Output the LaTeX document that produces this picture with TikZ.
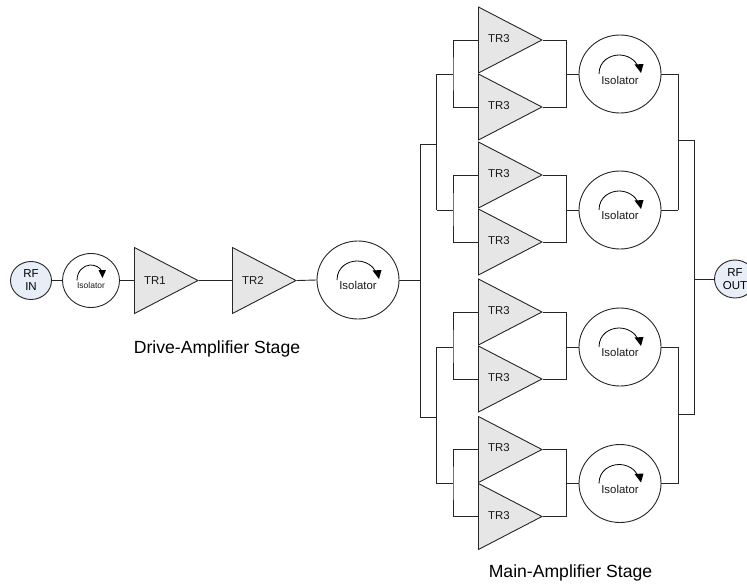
\documentclass[tikz,border=0pt]{standalone}
\usepackage{fontspec}
\setmainfont{Liberation Sans}
\usetikzlibrary{shapes.geometric}
\definecolor{ampfill}{HTML}{E6E6E6}
\definecolor{portfill}{HTML}{E8EEF8}
\definecolor{linec}{HTML}{262626}
\tikzset{
  amp/.style={draw=linec,fill=ampfill,line width=0.9pt,isosceles triangle,isosceles triangle stretches,
    minimum width=66pt,minimum height=63.5pt,inner sep=0pt,anchor=lower side},
  iso/.style={draw=linec,fill=white,line width=0.9pt,ellipse,minimum width=82pt,minimum height=78pt,inner sep=0pt},
  isosmall/.style={iso,minimum width=57pt,minimum height=54pt},
  port/.style={draw=linec,fill=portfill,line width=0.9pt,ellipse,minimum width=41pt,minimum height=38pt,inner sep=0pt,align=center,font=\fontsize{11.5}{13}\selectfont},
  lab/.style={inner sep=0pt,font=\fontsize{11.4}{13}\selectfont,text=black!90},
  stagelab/.style={inner sep=0pt,font=\fontsize{17.6}{20}\selectfont},
  wire/.style={draw=linec,line width=0.9pt},
  isoarrow/.pic={
    \draw[line width=0.8pt] (-21,0) .. controls (-21,-13) and (-10,-19) .. (-1,-19) .. controls (8,-19) and (15,-14) .. (18,-8);
    \fill (14.5,-9.5) -- (23.5,-10) -- (21,-1) -- cycle;
  },
  isoarrowsmall/.pic={
    \draw[line width=0.8pt] (-14,0) .. controls (-14,-10) and (-7,-15) .. (-1,-15.5) .. controls (5,-15.5) and (9,-13) .. (11,-9);
    \fill (7.5,-10.5) -- (15,-10.5) -- (11.5,-2.5) -- cycle;
  }
}
\begin{document}
\begin{tikzpicture}[x=1pt,y=-1pt]
\useasboundingbox (0,0) rectangle (747,584);
\clip (0,0) rectangle (747,584);
% junction coordinates
\coordinate (busA) at (420.5,144);
\coordinate (busB) at (420.5,417.5);
\coordinate (busIn) at (420.5,280);
\coordinate (l1) at (436.5,74);
\coordinate (l2) at (436.5,210);
\coordinate (l3) at (436.5,347);
\coordinate (l4) at (436.5,483.5);
\coordinate (m1) at (453,74);
\coordinate (m2) at (453,210);
\coordinate (m3) at (453,347);
\coordinate (m4) at (453,483.5);
\coordinate (r1) at (566.5,74);
\coordinate (r2) at (566.5,210);
\coordinate (r3) at (566.5,347);
\coordinate (r4) at (566.5,483.5);
\coordinate (o1) at (678,74);
\coordinate (o2) at (678,210);
\coordinate (o3) at (678,347);
\coordinate (o4) at (678,483.5);
\coordinate (oA) at (694.5,140);
\coordinate (oB) at (694.5,414);
\coordinate (oJ1) at (678,140);
\coordinate (oJ2) at (678,414);
\coordinate (oOut) at (694.5,279);
% wires
\draw[wire] (l1) -- (m1);
\draw[wire] (l2) -- (m2);
\draw[wire] (l3) -- (m3);
\draw[wire] (l4) -- (m4);
\draw[wire] (busA) -- (busB);
\draw[wire] (l1) |- (busA);
\draw[wire] (l2) |- (busA);
\draw[wire] (l3) |- (busB);
\draw[wire] (l4) |- (busB);
\draw[wire] (oA) -- (oB);
\draw[wire] (o1) -- (o2);
\draw[wire] (o3) -- (o4);
\draw[wire] (oJ1) -- (oA);
\draw[wire] (oJ2) -- (oB);
% amplifiers
\node[amp] (a1) at (478,40) {};
\node[amp] (a2) at (478,107) {};
\node[amp] (a3) at (478,175) {};
\node[amp] (a4) at (478,242) {};
\node[amp] (a5) at (478,312) {};
\node[amp] (a6) at (478,379) {};
\node[amp] (a7) at (478,449.5) {};
\node[amp] (a8) at (478,516.5) {};
\node[amp] (tr1) at (134,280.5) {};
\node[amp] (tr2) at (232,280.5) {};
% amplifier labels
\node[lab] (ta1) at (499,39) {TR3};
\node[lab] (ta2) at (499,106) {TR3};
\node[lab] (ta3) at (499,174) {TR3};
\node[lab] (ta4) at (499,241) {TR3};
\node[lab] (ta5) at (499,311) {TR3};
\node[lab] (ta6) at (499,378) {TR3};
\node[lab] (ta7) at (499,448) {TR3};
\node[lab] (ta8) at (499,516) {TR3};
\node[lab] (ttr1) at (155,280.5) {TR1};
\node[lab] (ttr2) at (253,280.5) {TR2};
% isolators
\node[iso] (i1) at (620,74) {};
\node[iso] (i2) at (620,210) {};
\node[iso] (i3) at (620,347) {};
\node[iso] (i4) at (620,483.5) {};
\node[iso] (i0) at (358,280) {};
\node[isosmall] (is) at (91,280.5) {};
\pic at (i1.center) {isoarrow};
\pic at (i2.center) {isoarrow};
\pic at (i3.center) {isoarrow};
\pic at (i4.center) {isoarrow};
\pic at (i0.center) {isoarrow};
\pic at (is.center) {isoarrowsmall};
\node[lab] (ti1) at (620,80) {Isolator};
\node[lab] (ti2) at (620,215) {Isolator};
\node[lab] (ti3) at (620,352) {Isolator};
\node[lab] (ti4) at (620,489) {Isolator};
\node[lab] (ti0) at (358,285.5) {Isolator};
\node[lab,font=\fontsize{8.5}{10}\selectfont] (tis) at (91,285) {Isolator};
% ports
\node[port] (in) at (31,280.5) {RF\\IN};
\node[port] (out) at (735,279) {RF\\OUT};
% connectors
\draw[wire] (a1.lower side) -| (m1) |- (a2.lower side);
\draw[wire] (a3.lower side) -| (m2) |- (a4.lower side);
\draw[wire] (a5.lower side) -| (m3) |- (a6.lower side);
\draw[wire] (a7.lower side) -| (m4) |- (a8.lower side);
\draw[wire] (a1.apex) -| (r1) |- (a2.apex);
\draw[wire] (a3.apex) -| (r2) |- (a4.apex);
\draw[wire] (a5.apex) -| (r3) |- (a6.apex);
\draw[wire] (a7.apex) -| (r4) |- (a8.apex);
\draw[wire] (r1) -- (i1.west);
\draw[wire] (r2) -- (i2.west);
\draw[wire] (r3) -- (i3.west);
\draw[wire] (r4) -- (i4.west);
\draw[wire] (i1.east) -- (o1);
\draw[wire] (i2.east) -- (o2);
\draw[wire] (i3.east) -- (o3);
\draw[wire] (i4.east) -- (o4);
\draw[wire] (oOut) -- (out.west);
\draw[wire] (in.east) -- (is.west);
\draw[wire] (is.east) -- (tr1.lower side);
\draw[wire] (tr1.apex) -- (tr2.lower side);
\draw[wire] (tr2.apex) -- (i0.west);
\draw[wire] (i0.east) -- (busIn);
% stage labels
\node[stagelab] (drive) at (217,349) {Drive-Amplifier Stage};
\node[stagelab] (main) at (570.5,572.5) {Main-Amplifier Stage};
\end{tikzpicture}
\end{document}
